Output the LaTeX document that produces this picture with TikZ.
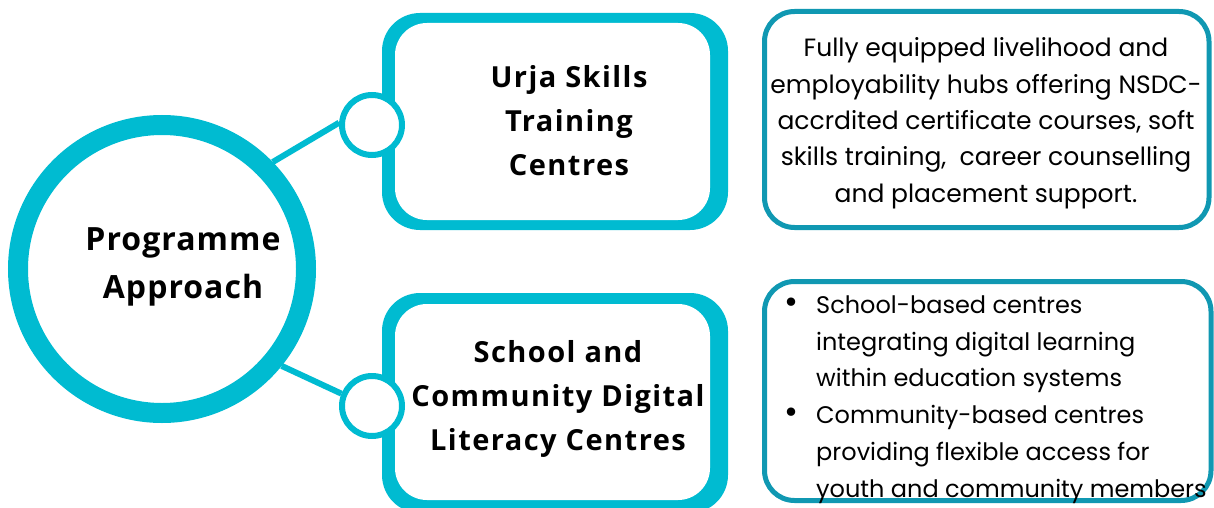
\documentclass[tikz,border=0pt]{standalone}
\usepackage{fontspec}
\newfontfamily\pafont{Open Sans}[LetterSpace=3.2]
\newfontfamily\boxfont{Open Sans}[LetterSpace=5]
\newfontfamily\descfont{Poppins}
\definecolor{ring}{RGB}{0,187,209}
\definecolor{frameteal}{RGB}{16,152,178}
\newcommand{\bigbul}{{\fontsize{34}{34}\selectfont\textbullet}}
\begin{document}
\begin{tikzpicture}[x=1pt,y=-1pt,
  outerframe/.style={rectangle, fill=ring, rounded corners=38pt, inner sep=0pt, outer sep=0pt},
  innerbox/.style={rectangle, fill=white, rounded corners=32pt, inner sep=0pt, outer sep=0pt},
  hub/.style={circle, draw=ring, line width=20pt, fill=white, minimum size=288pt, inner sep=0pt},
  knob/.style={circle, draw=ring, line width=6pt, fill=white, minimum size=60pt, inner sep=0pt},
  link/.style={draw=ring, line width=6pt},
  descbox/.style={rectangle, draw=frameteal, line width=5pt, rounded corners=30pt, fill=white, inner sep=0pt},
  hubtext/.style={align=center, inner sep=0pt, font=\pafont\bfseries\fontsize{32}{48}\selectfont},
  boxtext/.style={align=center, inner sep=0pt, font=\boxfont\bfseries\fontsize{29}{43.8}\selectfont},
  desctext/.style={inner sep=0pt, font=\descfont\fontsize{25}{36.3}\selectfont},
  listtext/.style={inner sep=0pt, font=\descfont\fontsize{24}{36.7}\selectfont}
]
\useasboundingbox (0,0) rectangle (1214,508);
% middle boxes
\node[outerframe, minimum width=346pt, minimum height=217pt] (f1) at (555,121.5) {};
\node[innerbox, minimum width=315pt, minimum height=197pt] (b1) at (552.5,121.5) {};
\node[outerframe, minimum width=346pt, minimum height=220pt] (f2) at (555,403) {};
\node[innerbox, minimum width=315pt, minimum height=196pt] (b2) at (552.5,402) {};
% description boxes
\node[descbox, minimum width=444.5pt, minimum height=216pt] (d1) at (986.75,119.5) {};
\node[descbox, minimum width=446.5pt, minimum height=219pt] (d2) at (987.75,391) {};
% hub and knobs
\node[hub] (pa) at (162,269) {};
\node[knob] (k1) at (372,125) {};
\node[knob] (k2) at (372,406) {};
\draw[link] (pa.44) -- (k1.176);
\draw[link] (pa.-39) -- (k2.158);
% texts
\node[hubtext, anchor=base] (tpa) at (183,298) {Programme\\Approach};
\node[boxtext, anchor=base] (t1) at (569,175) {Urja Skills\\Training\\Centres};
\node[boxtext, anchor=base] (t2) at (558,450) {School and\\Community Digital\\Literacy Centres};
\node[desctext, align=center, anchor=base] (td1) at (986,202) {Fully equipped livelihood and\\employability hubs offering NSDC-\\accrdited certificate courses, soft\\skills training,\ \ career counselling\\and placement support.};
\node[listtext, align=left, anchor=base west] (td2) at (784,497) {\begin{tabular}[b]{@{}l@{\hspace{18pt}}l@{}}
\bigbul & School-based centres\\
 & integrating digital learning\\
 & within education systems\\
\bigbul & Community-based centres\\
 & providing flexible access for\\
 & youth and community members
\end{tabular}};
\end{tikzpicture}
\end{document}
